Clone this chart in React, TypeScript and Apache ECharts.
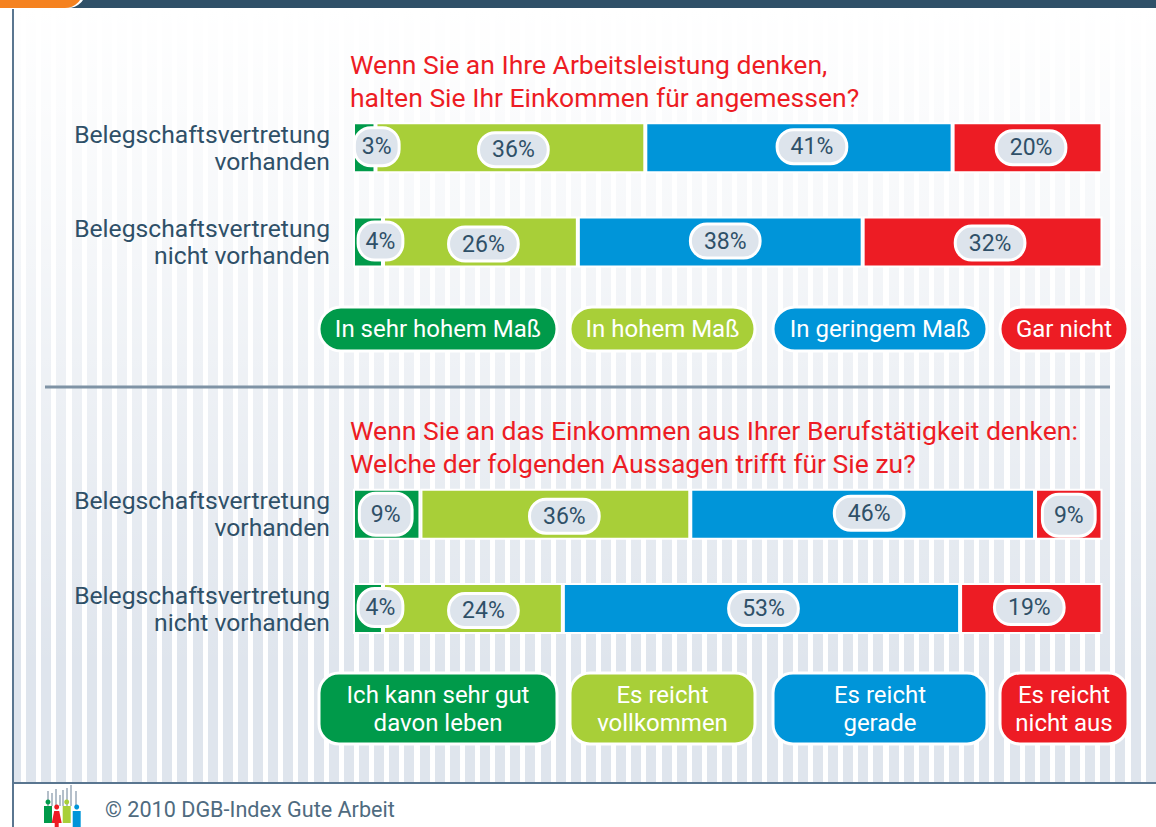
import React, { useEffect, useRef } from "react";
import * as echarts from "echarts";

const FONT = "Roboto";
const INK = "#2f5068";

const catsTop = ["Belegschaftsvertretung\nvorhanden", "Belegschaftsvertretung\nnicht vorhanden"];
const catsBottom = ["Belegschaftsvertretung\nvorhanden", "Belegschaftsvertretung\nnicht vorhanden"];

const legendTop = ["In sehr hohem Maß", "In hohem Maß", "In geringem Maß", "Gar nicht"];
const legendBottom = ["Ich kann sehr gut\ndavon leben", "Es reicht\nvollkommen", "Es reicht\ngerade", "Es reicht\nnicht aus"];

// percent per answer, one inner array per answer, rows in category order
const valuesTop = [[3, 4], [36, 26], [41, 38], [20, 32]];
const valuesBottom = [[9, 4], [36, 24], [46, 53], [9, 19]];

const titleTop = "Wenn Sie an Ihre Arbeitsleistung denken,\nhalten Sie Ihr Einkommen für angemessen?";
const titleBottom = "Wenn Sie an das Einkommen aus Ihrer Berufstätigkeit denken:\nWelche der folgenden Aussagen trifft für Sie zu?";
const footer = "© 2010 DGB-Index Gute Arbeit";

const COLORS = ["#009a4a", "#a8cf38", "#0095d9", "#ed1c24"];

// label pill displacement from the centre of each bar segment [dx, dy]
const offsetsTop = [[[12.5, -1], [12.5, -1]], [[3, 2], [3, 2]], [[13, -1], [5, -1]], [[3.5, 0], [7.5, 1]]];
const offsetsBottom = [[[-1, 0], [12.5, -1]], [[9, 2], [10.5, 2]], [[6.5, -1], [2, 0]], [[0, 1], [-2, -1]]];
// label pill padding [vertical, horizontal]
const padsTop = [[[5, 6], [5, 6]], [[3, 12], [3, 12]], [[3, 12], [3, 12]], [[3, 12], [3, 12]]];
const padsBottom = [[[7, 10], [5, 6]], [[3, 12], [3, 12]], [[3, 12], [3, 12]], [[7, 10], [3, 12]]];

const legendX = [[319, 238], [570, 185], [773, 214], [1000, 128]];

function makeSeries(values: number[][], names: string[], offs: number[][][], pads: number[][][], idx: number) {
  return values.map((vals, i) => ({
    type: "bar" as const,
    name: names[i].replace("\n", " "),
    stack: "s" + idx,
    xAxisIndex: idx,
    yAxisIndex: idx,
    barWidth: 51,
    itemStyle: { color: COLORS[i], borderColor: "#ffffff", borderWidth: 2 },
    data: vals.map((v, r) => ({
      value: v,
      label: {
        show: true,
        position: "inside",
        offset: offs[i][r],
        formatter: v + "%",
        color: INK,
        fontFamily: FONT,
        fontSize: 23,
        lineHeight: 25,
        backgroundColor: "#dde4ec",
        borderColor: "#ffffff",
        borderWidth: 3,
        borderRadius: 15,
        padding: [pads[i][r][0], pads[i][r][1]],
      },
    })),
  }));
}

function pills(names: string[], y: number, h: number, r: number) {
  return names.flatMap((n, i) => [
    {
      type: "rect",
      z: 5,
      shape: { x: legendX[i][0], y, width: legendX[i][1], height: h, r },
      style: { fill: COLORS[i], stroke: "#ffffff", lineWidth: 3 },
    },
    {
      type: "text",
      z: 6,
      x: legendX[i][0] + legendX[i][1] / 2,
      y: y + h / 2,
      style: {
        text: n,
        fill: "#ffffff",
        font: `24px ${FONT}`,
        lineHeight: 28,
        align: "center",
        verticalAlign: "middle",
      },
    },
  ]);
}

function figure(x: number, top: number, color: string, dress: boolean) {
  const body = dress
    ? { type: "polygon", shape: { points: [[x - 2.5, top + 4], [x + 2.5, top + 4], [x + 5, top + 16], [x + 2, top + 16], [x + 2, top + 21], [x - 2, top + 21], [x - 2, top + 16], [x - 5, top + 16]] } }
    : { type: "rect", shape: { x: x - 4, y: top + 4, width: 8, height: 17 } };
  return [
    { type: "circle", z: 4, shape: { cx: x, cy: top, r: 2.5 }, style: { fill: color } },
    { ...body, z: 4, style: { fill: color } },
  ];
}

const logoBars = [[48, 791], [52, 793], [56, 789], [60, 795], [63, 790], [67, 788], [71, 785], [76, 791]];

export default function App() {
  const ref = useRef<HTMLDivElement>(null);
  useEffect(() => {
    const chart = echarts.init(ref.current!, undefined, { renderer: "svg" });
    const yAxis = (cats: string[], gridIndex: number, bottomPad: number) => ({
      type: "category" as const,
      gridIndex,
      inverse: true,
      data: cats,
      axisLine: { show: false },
      axisTick: { show: false },
      axisLabel: {
        color: INK,
        fontFamily: FONT,
        fontSize: 24.7,
        lineHeight: 27,
        margin: 23,
        padding: [0, 0, bottomPad, 0],
        align: "right" as const,
      },
    });
    const xAxis = (gridIndex: number) => ({
      type: "value" as const,
      gridIndex,
      min: 0,
      max: 100,
      show: false,
    });
    const titleStyle = { color: "#ed1c24", fontFamily: FONT, fontSize: 26.5, fontWeight: "normal" as const, lineHeight: 33 };
    chart.setOption({
      animation: false,
      backgroundColor: "transparent",
      title: [
        { text: titleTop, left: 345, top: 43, textStyle: titleStyle },
        { text: titleBottom, left: 345, top: 409, textStyle: titleStyle },
      ],
      grid: [
        { left: 353, width: 749.5, top: 100.5, height: 188.8 },
        { left: 353, width: 749.5, top: 467, height: 188.8 },
      ],
      xAxis: [xAxis(0), xAxis(1)],
      yAxis: [yAxis(catsTop, 0, 0), yAxis(catsBottom, 1, 2)],
      series: [
        ...makeSeries(valuesTop, legendTop, offsetsTop, padsTop, 0),
        ...makeSeries(valuesBottom, legendBottom, offsetsBottom, padsBottom, 1),
      ],
      graphic: [
        { type: "rect", z: 1, shape: { x: 0, y: 0, width: 1156, height: 8 }, style: { fill: "#2f5068" } },
        { type: "rect", z: 2, shape: { x: -10, y: -12, width: 96, height: 20, r: [0, 0, 18, 0] }, style: { fill: "#ffffff" } },
        { type: "rect", z: 3, shape: { x: -10, y: -12, width: 93, height: 20, r: [0, 0, 18, 0] }, style: { fill: "#f58220" } },
        { type: "line", z: 2, shape: { x1: 13, y1: 9, x2: 13, y2: 827 }, style: { stroke: "#5a7690", lineWidth: 2 } },
        { type: "line", z: 2, shape: { x1: 13, y1: 783, x2: 1156, y2: 783 }, style: { stroke: "#5a7690", lineWidth: 2 } },
        { type: "line", z: 2, shape: { x1: 45, y1: 387, x2: 1110, y2: 387 }, style: { stroke: "#7f93a5", lineWidth: 3 } },
        ...pills(legendTop, 307, 44, 22),
        ...pills(legendBottom, 673, 71, 20),
        ...logoBars.map(([x, y]) => ({
          type: "line", z: 3, shape: { x1: x, y1: y, x2: x, y2: 806 }, style: { stroke: "#b4bfca", lineWidth: 2 },
        })),
        ...figure(48, 802, "#009a4a", false),
        ...figure(56.7, 807, "#ed1c24", true),
        ...figure(66.7, 802, "#a8cf38", false),
        ...figure(76.7, 807, "#0095d9", false),
        {
          type: "text",
          z: 4,
          x: 105,
          y: 809,
          style: { text: footer, fill: "#4f6b80", font: `21.6px ${FONT}`, verticalAlign: "middle" },
        },
      ],
    });
    return () => chart.dispose();
  }, []);

  return (
    <div style={{ position: "fixed", left: 0, top: 0, width: 1156, height: 827, background: "#ffffff", overflow: "hidden" }}>
      <div
        style={{
          position: "absolute",
          left: 14,
          top: 8,
          width: 1142,
          height: 775,
          background:
            "linear-gradient(to bottom, rgba(255,255,255,1) 0%, rgba(255,255,255,0.75) 25%, rgba(255,255,255,0) 85%), repeating-linear-gradient(90deg, #dfe5ed -3px, #dfe5ed 7px, #ffffff 7px, #ffffff 12.13px)",
        }}
      />
      <div ref={ref} style={{ position: "absolute", left: 0, top: 0, width: 1156, height: 827 }} />
    </div>
  );
}
